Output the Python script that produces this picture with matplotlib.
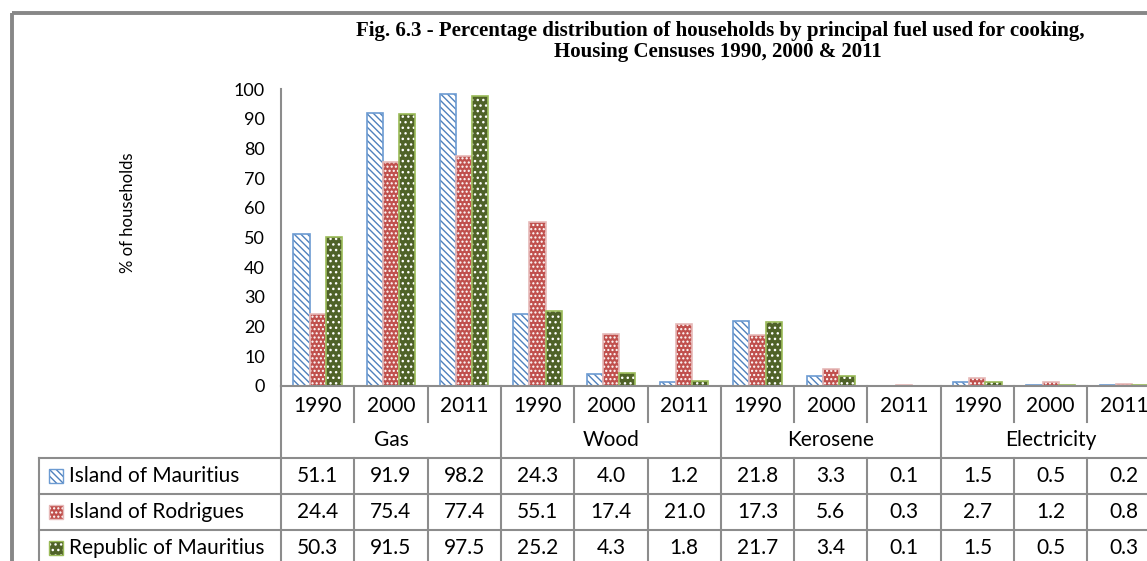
import matplotlib.pyplot as plt
from matplotlib.patches import Rectangle
import numpy as np

fuels = ["Gas", "Wood", "Kerosene", "Electricity"]
years = ["1990", "2000", "2011"]
series = ["Island of Mauritius", "Island of Rodrigues", "Republic of Mauritius"]

mauritius = [51.1, 91.9, 98.2, 24.3, 4.0, 1.2, 21.8, 3.3, 0.1, 1.5, 0.5, 0.2]
rodrigues = [24.4, 75.4, 77.4, 55.1, 17.4, 21.0, 17.3, 5.6, 0.3, 2.7, 1.2, 0.8]
republic = [50.3, 91.5, 97.5, 25.2, 4.3, 1.8, 21.7, 3.4, 0.1, 1.5, 0.5, 0.3]

# face, hatch colour, hatch, outline
styles = [
    ("white", "#4F81BD", "\\\\\\\\\\", "#6C9BD2"),
    ("#C0504D", "white", "....", "#E6B9B8"),
    ("#4F6228", "white", "...", "#9BBB59"),
]

plt.rcParams['font.family'] = 'Lato'
plt.rcParams['hatch.linewidth'] = 1.0

W, H = 1147, 561
fig = plt.figure(figsize=(W / 100, H / 100), dpi=100)

# layout in pixels
X0, CW = 281, 73.3
Y0, Y100 = 386, 89
GRID = "#8C8C8C"
n = len(mauritius)

ax = fig.add_axes([X0 / W, 1 - Y0 / H, n * CW / W, (Y0 - Y100) / H])
x = np.arange(n)
bw = 0.22
for k, (vals, (face, hcol, hatch, edge)) in enumerate(zip([mauritius, rodrigues, republic], styles)):
    pos = x + (k - 1) * bw
    ax.bar(pos, vals, bw, color=face, edgecolor=hcol, hatch=hatch, linewidth=0)
    ax.bar(pos, vals, bw, fill=False, edgecolor=edge, linewidth=1.2)

ax.set_xlim(-0.5, n - 0.5)
ax.set_ylim(0, 100)
ax.set_yticks(range(0, 101, 10))
ax.set_xticks([])
ax.tick_params(axis='y', length=0, pad=11.5, labelsize=13)
for s in ['top', 'right']:
    ax.spines[s].set_visible(False)
for s in ['left', 'bottom']:
    ax.spines[s].set_color(GRID)
    ax.spines[s].set_linewidth(1.5)

# overlay in pixel coordinates for the data table, title and frame
tb = fig.add_axes([0, 0, 1, 1])
tb.set_xlim(0, W)
tb.set_ylim(H, 0)
tb.axis('off')

# frame
tb.plot([12, W], [13, 13], color="#878787", lw=2.8, solid_capstyle='butt')
tb.plot([12, 12], [13, H], color="#878787", lw=2.8, solid_capstyle='butt')

tb.text(720, 31, "Fig. 6.3 - Percentage distribution of households by principal fuel used for cooking,",
        ha='center', va='center', family='Liberation Serif', weight='bold', size=15)
tb.text(718, 52, "Housing Censuses 1990, 2000 & 2011",
        ha='center', va='center', family='Liberation Serif', weight='bold', size=15)

tb.text(128, 213, "% of households", rotation=90, ha='center', va='center', size=12)

edges = X0 + CW * np.arange(n + 1)
row_tops = [458, 494, 530]
for i, ex in enumerate(edges):
    if i % 3 == 0:
        tb.plot([ex, ex], [Y0, H], color=GRID, lw=1.5)
    else:
        tb.plot([ex, ex], [Y0, 422], color=GRID, lw=1.5)
        tb.plot([ex, ex], [458, H], color=GRID, lw=1.5)
tb.plot([39, 39], [458, H], color=GRID, lw=1.5)
for yt in row_tops:
    tb.plot([39, W], [yt, yt], color=GRID, lw=1.5)

centers = X0 + CW * (x + 0.5)
for i, c in enumerate(centers):
    tb.text(c, 406, years[i % 3], ha='center', va='center', size=15)
for g, fuel in enumerate(fuels):
    tb.text(X0 + CW * (3 * g + 1.5), 440, fuel, ha='center', va='center', size=15)

for r, (name, vals, (face, hcol, hatch, edge)) in enumerate(
        zip(series, [mauritius, rodrigues, republic], styles)):
    yc = row_tops[r] + 18
    tb.add_patch(Rectangle((49, yc - 7), 14, 14, facecolor=face, edgecolor=hcol,
                           hatch=hatch, linewidth=0))
    tb.add_patch(Rectangle((49, yc - 7), 14, 14, fill=False, edgecolor=edge, linewidth=1))
    tb.text(69, yc, name, ha='left', va='center', size=15)
    for c, v in zip(centers, vals):
        tb.text(c, yc, f"{v:.1f}", ha='center', va='center', size=15)

fig.savefig("out.png", dpi=100)
